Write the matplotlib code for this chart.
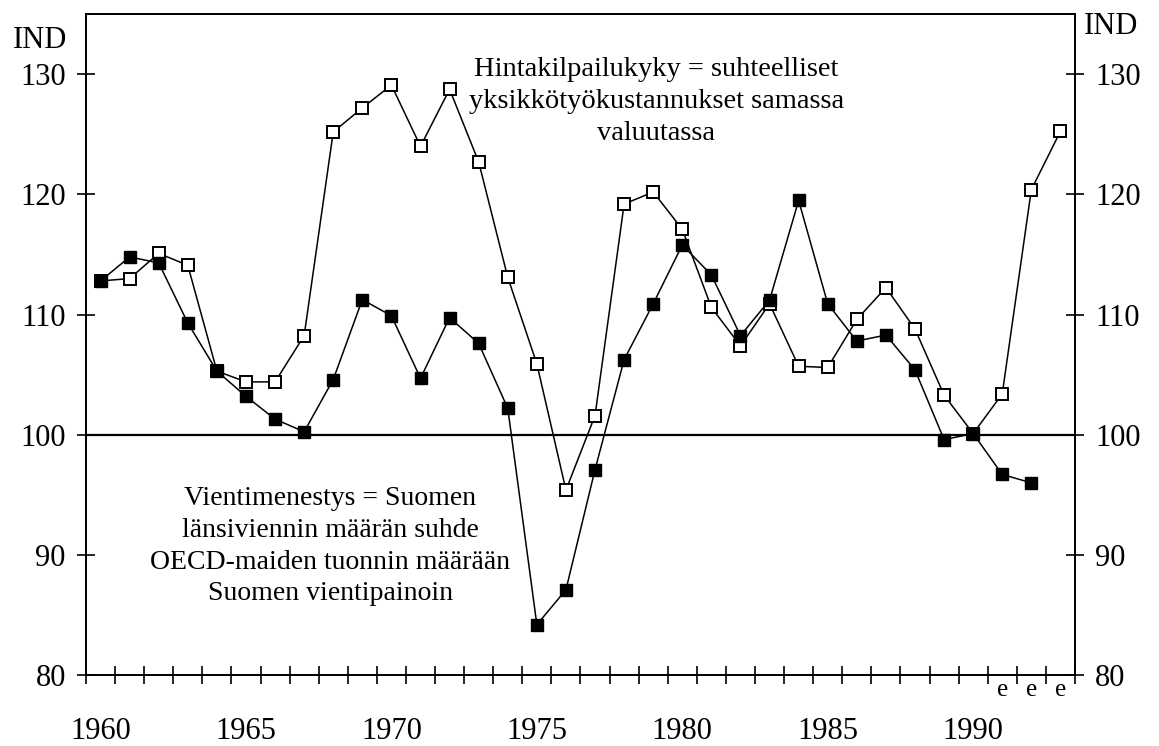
import matplotlib.pyplot as plt
from matplotlib.ticker import FixedLocator

plt.rcParams['font.family'] = ['Liberation Serif', 'DejaVu Serif']

# Values (index)
years_hinta = list(range(1960, 1994))
hinta = [112.8, 113.0, 115.1, 114.1, 105.3, 104.4, 104.4, 108.25, 125.2, 127.2,
         129.1, 124.0, 128.75, 122.7, 113.1, 105.9, 95.4, 101.6, 119.2, 120.2,
         117.1, 110.6, 107.4, 110.9, 105.7, 105.6, 109.6, 112.25, 108.8, 103.3,
         100.1, 103.4, 120.4, 125.25]

years_vienti = list(range(1960, 1993))
vienti = [112.8, 114.8, 114.3, 109.3, 105.3, 103.2, 101.3, 100.25, 104.6, 111.25,
          109.9, 104.7, 109.75, 107.6, 102.2, 84.2, 87.1, 97.1, 106.25, 110.9,
          115.8, 113.3, 108.25, 111.2, 119.5, 110.9, 107.8, 108.3, 105.4, 99.6,
          100.1, 96.7, 96.0]

year_labels = [1960, 1965, 1970, 1975, 1980, 1985, 1990]
y_ticks = [80, 90, 100, 110, 120, 130]
estimate_years = [1991, 1992, 1993]

text_hinta = "Hintakilpailukyky = suhteelliset\nyksikkötyökustannukset samassa\nvaluutassa"
text_vienti = ("Vientimenestys = Suomen\nlänsiviennin määrän suhde\n"
               "OECD-maiden tuonnin määrään\nSuomen vientipainoin")

fig = plt.figure(figsize=(11.59, 7.46), dpi=100)
ax = fig.add_axes([0.0742, 0.095, 0.8533, 0.886])

# reference line at 100
ax.axhline(100, color='black', lw=1.6, zorder=1)

ax.plot(years_hinta, hinta, color='black', lw=1.1, marker='s', ms=9,
        mfc='white', mec='black', mew=1.4, zorder=2)
ax.plot(years_vienti, vienti, color='black', lw=1.1, marker='s', ms=9,
        mfc='black', mec='black', zorder=3)

ax.set_xlim(1959.5, 1993.5)
ax.set_ylim(80, 135)

for s in ax.spines.values():
    s.set_linewidth(1.3)

# x axis: year labels under the points, small ticks at year boundaries
ax.xaxis.set_major_locator(FixedLocator(year_labels))
ax.set_xticklabels([str(y) for y in year_labels], fontsize=22)
ax.xaxis.set_minor_locator(FixedLocator([y + 0.5 for y in range(1959, 1994)]))
ax.tick_params(axis='x', which='major', length=0, pad=30)
ax.tick_params(axis='x', which='minor', direction='inout', length=13, width=1.2)

# y axes, left and right
ax.set_yticks(y_ticks)
ax.set_yticklabels([str(v) for v in y_ticks], fontsize=22)
ax.tick_params(axis='y', direction='inout', length=13, width=1.2, pad=8)

ax2 = ax.twinx()
ax2.set_ylim(ax.get_ylim())
ax2.set_yticks(y_ticks)
ax2.set_yticklabels([str(v) for v in y_ticks], fontsize=22)
ax2.tick_params(axis='y', direction='inout', length=13, width=1.2, pad=8)
for s in ax2.spines.values():
    s.set_linewidth(1.3)

# "e" = estimate
for y in estimate_years:
    ax.text(y, 79.7, 'e', ha='center', va='top', fontsize=18)

ax.text(1979.1, 131.4, text_hinta, ha='center', va='top', fontsize=20.5,
        linespacing=1.35)
ax.text(1967.9, 95.7, text_vienti, ha='center', va='top', fontsize=20,
        linespacing=1.35)

fig.text(40 / 1159, 1 - 40 / 746, 'IND', ha='center', va='center', fontsize=22)
fig.text(1111 / 1159, 1 - 26 / 746, 'IND', ha='center', va='center', fontsize=22)

fig.savefig('out.png', dpi=100)
